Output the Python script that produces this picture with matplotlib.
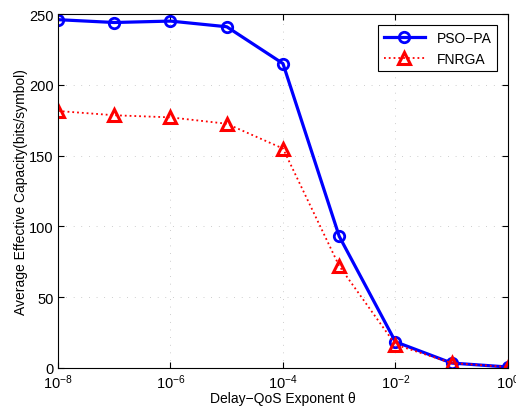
import numpy as np
import matplotlib.pyplot as plt

plt.rcParams['font.family'] = ['Liberation Sans', 'DejaVu Sans']

# delay-QoS exponent values (log-spaced decades)
theta = [1e-8, 1e-7, 1e-6, 1e-5, 1e-4, 1e-3, 1e-2, 1e-1, 1e0]
pso_pa = [246, 244, 245, 241, 215, 93, 18.5, 3.5, 0.7]
fnrga = [181.5, 178.5, 177, 172.5, 155, 72, 16.5, 3.5, 0.7]

xticks = [1e-8, 1e-6, 1e-4, 1e-2, 1e0]
yticks = [0, 50, 100, 150, 200, 250]

fig = plt.figure(figsize=(5.16, 4.10), dpi=100)
ax = fig.add_axes([0.1124, 0.1, 0.872, 0.8634])

ax.plot(theta, pso_pa, '-o', color='blue', lw=2.3, ms=7.5, mew=2,
        mfc='none', label='PSO\u2212PA')
ax.plot(theta, fnrga, ':^', color='red', lw=1.3, ms=8.5, mew=2.2,
        mfc='none', label='FNRGA')

ax.set_xscale('log')
ax.set_xlim(1e-8, 1e0)
ax.set_ylim(0, 250)
ax.set_xticks(xticks)
ax.set_yticks(yticks)
ax.minorticks_off()

ax.tick_params(which='both', direction='in', top=True, right=True,
               labelsize=10.5, length=4, pad=3)
ax.grid(True, which='major', linestyle=(0, (1, 10)), color='#a0a0a0', lw=0.5)

ax.set_xlabel('Delay\u2212QoS Exponent \u03b8', fontsize=10, labelpad=0)
ax.set_ylabel('Average Effective Capacity(bits/symbol)', fontsize=10, labelpad=1)

leg = ax.legend(loc='upper right', fontsize=10, fancybox=False, framealpha=1,
                edgecolor='black', borderaxespad=0.8, handlelength=3)
leg.get_frame().set_linewidth(0.8)

fig.savefig('out.png', dpi=100)
